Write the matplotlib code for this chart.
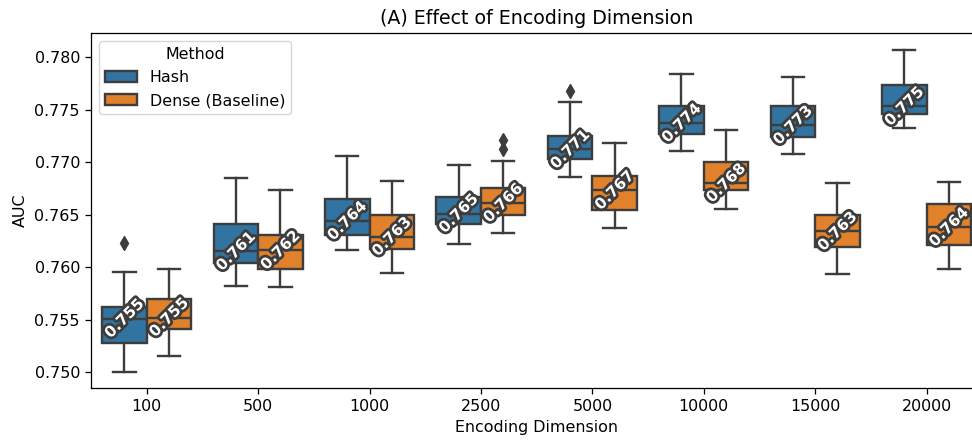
import numpy as np
import matplotlib
matplotlib.use("Agg")
import matplotlib.pyplot as plt
import matplotlib.patheffects as pe
from matplotlib.patches import Patch

# encoding dimensions (x categories)
dims = ["100", "500", "1000", "2500", "5000", "10000", "15000", "20000"]
methods = ["Hash", "Dense (Baseline)"]

# box statistics (AUC)
hash_whislo = [0.7500, 0.7582, 0.7616, 0.7622, 0.7686, 0.7711, 0.7708, 0.7732]
hash_q1     = [0.7528, 0.7604, 0.7631, 0.7641, 0.7703, 0.7727, 0.7724, 0.7746]
hash_med    = [0.7551, 0.7615, 0.7644, 0.7651, 0.7712, 0.7737, 0.7735, 0.7753]
hash_q3     = [0.7562, 0.7641, 0.7665, 0.7667, 0.7725, 0.7753, 0.7753, 0.7773]
hash_whishi = [0.7595, 0.7685, 0.7706, 0.7697, 0.7757, 0.7784, 0.7781, 0.7807]
hash_fliers = [[0.7623], [], [], [], [0.7768], [], [], []]

dense_whislo = [0.7515, 0.7581, 0.7594, 0.7632, 0.7637, 0.7655, 0.7593, 0.7598]
dense_q1     = [0.7541, 0.7598, 0.7617, 0.7650, 0.7654, 0.7673, 0.7619, 0.7621]
dense_med    = [0.7552, 0.7616, 0.7629, 0.7661, 0.7673, 0.7680, 0.7634, 0.7638]
dense_q3     = [0.7570, 0.7631, 0.7650, 0.7675, 0.7687, 0.7700, 0.7650, 0.7660]
dense_whishi = [0.7598, 0.7673, 0.7682, 0.7701, 0.7718, 0.7731, 0.7680, 0.7681]
dense_fliers = [[], [], [], [0.7712, 0.7721], [], [], [], []]

# numbers written on the boxes
hash_labels  = [0.755, 0.761, 0.764, 0.765, 0.771, 0.774, 0.773, 0.775]
dense_labels = [0.755, 0.762, 0.763, 0.766, 0.767, 0.768, 0.763, 0.764]

colors = ["#3274a1", "#e1812c"]
gray = "#3d3d3d"
s = 1.14  # the reference was drawn a bit larger than 100 dpi

plt.rcParams["axes.linewidth"] = 0.8 * s
plt.rcParams["xtick.major.width"] = 0.8 * s
plt.rcParams["ytick.major.width"] = 0.8 * s
plt.rcParams["xtick.major.size"] = 3.5 * s
plt.rcParams["ytick.major.size"] = 3.5 * s
plt.rcParams["xtick.major.pad"] = 3.5 * s
plt.rcParams["ytick.major.pad"] = 3.5 * s

fig = plt.figure(figsize=(9.72, 4.4), dpi=100)
ax = fig.add_axes([0.0936, 0.118, 0.917, 0.807])

series = [
    (hash_whislo, hash_q1, hash_med, hash_q3, hash_whishi, hash_fliers, hash_labels),
    (dense_whislo, dense_q1, dense_med, dense_q3, dense_whishi, dense_fliers, dense_labels),
]

lw = 1.5 * s
x = np.arange(len(dims))
for k, (wlo, q1, med, q3, whi, fl, labs) in enumerate(series):
    stats = []
    for i in range(len(dims)):
        stats.append(dict(whislo=wlo[i], q1=q1[i], med=med[i], q3=q3[i],
                          whishi=whi[i], fliers=fl[i]))
    pos = x + (-0.2 if k == 0 else 0.2)
    ax.bxp(stats, positions=pos, widths=0.4, patch_artist=True, showfliers=True,
           boxprops=dict(facecolor=colors[k], edgecolor=gray, linewidth=lw),
           medianprops=dict(color=gray, linewidth=lw),
           whiskerprops=dict(color=gray, linewidth=lw),
           capprops=dict(color=gray, linewidth=lw),
           flierprops=dict(marker="d", markerfacecolor=gray, markeredgecolor=gray,
                           markersize=6 * s))
    for i in range(len(dims)):
        ax.text(pos[i], med[i], f"{labs[i]:.3f}", rotation=45, ha="center",
                va="center", color="white", fontsize=11, fontweight="bold",
                path_effects=[pe.withStroke(linewidth=3.5 * s, foreground=gray)])

ax.set_xticks(x)
ax.set_xticklabels(dims)
ax.set_xlim(-0.5, len(dims) - 0.5)
ax.set_ylim(0.74848, 0.78229)
ax.set_yticks([0.750, 0.755, 0.760, 0.765, 0.770, 0.775, 0.780])
ax.tick_params(labelsize=10 * s)
ax.set_xlabel("Encoding Dimension", fontsize=10 * s, labelpad=4 * s)
ax.set_ylabel("AUC", fontsize=10 * s, labelpad=4 * s)
ax.set_title("(A) Effect of Encoding Dimension", fontsize=12 * s, pad=6 * s)

handles = [Patch(facecolor=colors[k], edgecolor=gray, linewidth=lw) for k in range(2)]
ax.legend(handles, methods, title="Method", loc="upper left", fontsize=10 * s,
          title_fontsize=10 * s, borderaxespad=0.5, handlelength=2.0)

fig.savefig("out.png", dpi=100)
